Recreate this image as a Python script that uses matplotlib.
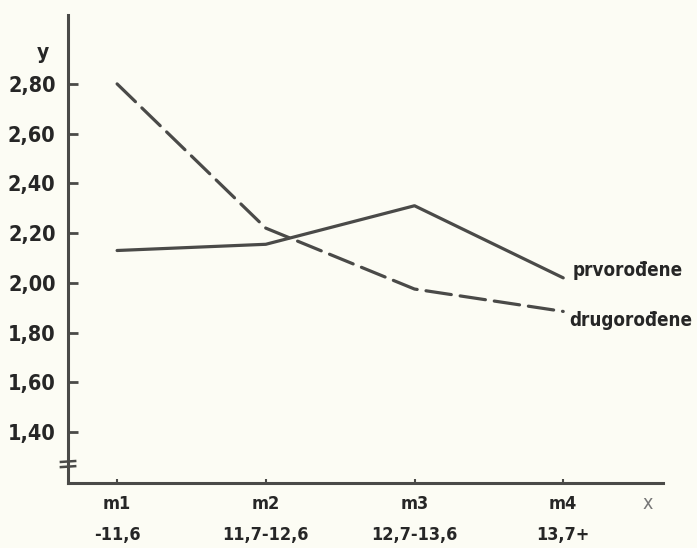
import numpy as np
import matplotlib.pyplot as plt

# podaci ocitani sa slike
kategorije = ['m1', 'm2', 'm3', 'm4']
intervali = ['-11,6', '11,7-12,6', '12,7-13,6', '13,7+']
prvorodjene = [2.13, 2.155, 2.31, 2.02]
drugorodjene = [2.80, 2.22, 1.975, 1.885]
y_ticks = [1.40, 1.60, 1.80, 2.00, 2.20, 2.40, 2.60, 2.80]
y_labels = ['1,40', '1,60', '1,80', '2,00', '2,20', '2,40', '2,60', '2,80']

boja = '#4a4a48'
tekst = '#262626'
pozadina = '#fcfcf4'

plt.rcParams['font.family'] = ['DejaVu Sans']
plt.rcParams['font.stretch'] = 'condensed'

fig = plt.figure(figsize=(6.97, 5.48), dpi=100, facecolor=pozadina)
ax = fig.add_axes([0.0976, 0.1186, 0.8534, 0.854])
ax.set_facecolor(pozadina)

x = np.arange(1, len(kategorije) + 1)
ax.plot(x, prvorodjene, color=boja, lw=2.3, solid_capstyle='round')
ax.plot(x, drugorodjene, color=boja, lw=2.3, linestyle=(0, (8, 2.8)),
        dash_capstyle='round')

ax.set_xlim(0.67, 4.67)
ax.set_ylim(1.195, 3.077)

for s in ['top', 'right']:
    ax.spines[s].set_visible(False)
ax.spines['left'].set_linewidth(2.2)
ax.spines['bottom'].set_linewidth(2.2)
ax.spines['left'].set_color(boja)
ax.spines['bottom'].set_color(boja)

ax.set_yticks(y_ticks)
ax.set_yticklabels(y_labels, fontsize=15.5, fontweight='bold', color=tekst)
ax.tick_params(axis='y', direction='in', length=7, width=2, color=boja, pad=9)
ax.set_xticks(x)
ax.set_xticklabels([])
ax.tick_params(axis='x', direction='in', length=3, width=1.5, color=boja)

# oznake na x osi u dva reda
for xi, k, iv in zip(x, kategorije, intervali):
    ax.text(xi, -0.044, k, transform=ax.get_xaxis_transform(), ha='center',
            va='center', fontsize=13, fontweight='bold', color=tekst)
    ax.text(xi, -0.111, iv, transform=ax.get_xaxis_transform(), ha='center',
            va='center', fontsize=13, fontweight='bold', color=tekst)

ax.text(4.57, -0.044, 'x', transform=ax.get_xaxis_transform(), ha='center',
        va='center', fontsize=14, color='#777777')
ax.text(-0.042, 2.925, 'y', transform=ax.get_yaxis_transform(), ha='center',
        va='center', fontsize=15, fontweight='bold', color=tekst)

# nazivi linija
ax.text(4.06, prvorodjene[-1] + 0.03, 'prvorođene', ha='left', va='center',
        fontsize=13.5, fontweight='bold', color=tekst)
ax.text(4.04, drugorodjene[-1] - 0.035, 'drugorođene', ha='left', va='center',
        fontsize=13.5, fontweight='bold', color=tekst)

# prekid ose
for yy in [0.034, 0.045]:
    ax.plot([-0.012, 0.012], [yy, yy + 0.002], transform=ax.transAxes,
            color=boja, lw=1.8, clip_on=False)

plt.savefig('out.png', dpi=100, facecolor=pozadina)
